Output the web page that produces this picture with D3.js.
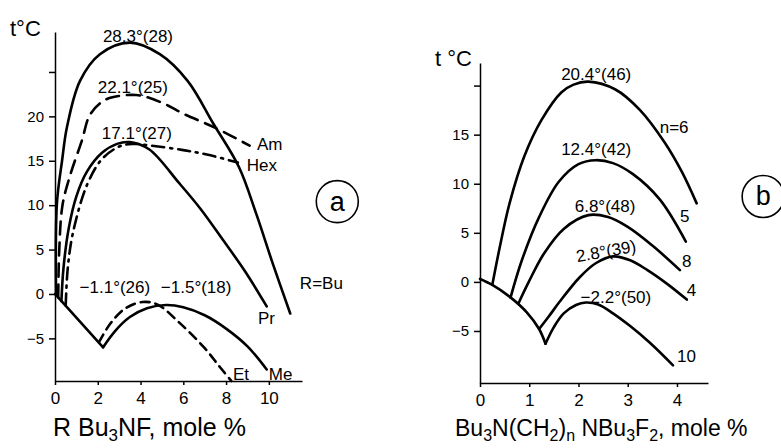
<!DOCTYPE html>
<meta charset="utf-8">
<script src="https://cdn.jsdelivr.net/npm/d3@7"></script>
<style>
body { margin: 0; background: #fff; }
svg { display: block; }
.curve { fill: none; stroke: #000; stroke-width: 2.6px; stroke-linecap: round; stroke-linejoin: round; }
.axis path, .axis line { stroke: #000; stroke-width: 1.5px; }
.axis text { font-family: "Liberation Sans", sans-serif; fill: #000; }
.lbl { font-family: "Liberation Sans", sans-serif; fill: #000; }
</style>
<body>
<script>

// ---- panel (a): R Bu3NF ----
let xTicksA = [0, 2, 4, 6, 8, 10];
let yTicksA = [-5, 0, 5, 10, 15, 20, 25];

let liquidA = [[0, 0], [2.25, -6.0]];
let buA  = [[0.05, -0.13], [0.09, 10.2], [0.33, 15], [0.56, 18.8], [1.17, 24], [2.1, 27], [3.5, 28.3], [4.9, 27], [6.2, 24], [7.4, 19.2], [8.6, 14.3], [9.4, 9.1], [10.2, 3.3], [11.0, -2.2]];
let amA  = [[0.15, -0.4], [0.2, 5], [0.35, 10], [0.7, 13.3], [1.26, 17.3], [1.64, 20.2], [2.3, 21.8], [3.0, 22.3], [3.8, 22.4], [4.4, 22.1], [5.3, 21.2], [6.0, 20.3], [7.5, 18.7], [9.1, 16.7]];
let prA  = [[0.3, -0.8], [0.4, 3], [0.65, 7.5], [1.0, 11], [1.5, 13.8], [2.2, 15.9], [2.9, 16.9], [3.5, 17.1], [4.4, 16.3], [5.8, 12.5], [6.8, 9.6], [7.85, 6.1], [8.9, 2.5], [9.9, -1.4]];
let hexA = [[0.5, -1.3], [0.6, 3], [0.85, 7], [1.5, 12.3], [2.2, 15.2], [3.0, 16.6], [3.6, 16.9], [4.5, 16.7], [6.0, 16.2], [7.1, 15.7], [8.55, 14.8]];
let meA  = [[2.25, -6.0], [2.8, -4.2], [3.5, -2.6], [4.3, -1.6], [5.2, -1.25], [6.0, -1.5], [7.0, -2.4], [8.0, -3.9], [9.0, -5.9], [9.9, -8.5]];
let etA  = [[2.05, -5.45], [2.6, -3.3], [3.3, -1.6], [4.1, -0.9], [4.8, -1.2], [5.8, -3.2], [7.0, -6.1], [7.7, -8.2], [8.25, -9.8]];

// text, x, y (data units), anchor
let labelsA = [
  ["28.3°(28)", 3.88, 28.4, "middle"],
  ["22.1°(25)", 3.64, 22.6, "middle"],
  ["17.1°(27)", 3.83, 17.4, "middle"],
  ["Am", 9.44, 16.2, "start"],
  ["Hex", 8.97, 13.9, "start"],
  ["−1.1°(26)", 2.8, 0.1, "middle"],
  ["−1.5°(18)", 6.6, 0.1, "middle"],
  ["R=Bu", 11.45, 0.56, "start"],
  ["Pr", 9.49, -3.4, "start"],
  ["Et", 8.32, -9.66, "start"],
  ["Me", 10.0, -9.66, "start"]
];

// ---- panel (b): Bu3N(CH2)nNBu3F2 ----
let xTicksB = [0, 1, 2, 3, 4];
let yTicksB = [-5, 0, 5, 10, 15, 20];

let liquidB = [[0, 0.3], [0.25, -0.3], [0.6, -1.5], [0.95, -3.1], [1.2, -4.8], [1.33, -6.3]];
let n6  = [[0.25, -0.3], [0.4, 3.5], [0.6, 8], [0.9, 12.8], [1.25, 16.5], [1.65, 19.3], [1.9, 20.1], [2.2, 20.4], [2.75, 19.6], [3.25, 17.5], [3.75, 14.2], [4.1, 11.2], [4.4, 8.0]];
let n5  = [[0.62, -1.6], [0.85, 2.2], [1.2, 6.6], [1.6, 10.2], [2.0, 12.0], [2.35, 12.4], [2.7, 12.1], [3.1, 11.0], [3.65, 8.4], [4.18, 4.1]];
let n8  = [[0.78, -2.2], [1.0, 0.1], [1.3, 2.9], [1.7, 5.4], [2.2, 6.8], [2.6, 6.6], [3.0, 5.6], [3.5, 3.7], [4.06, 1.2]];
let n4  = [[1.2, -4.8], [1.4, -3.5], [1.62, -2.0], [2.03, 0.5], [2.35, 1.9], [2.7, 2.6], [3.05, 2.2], [3.4, 1.2], [3.8, -0.2], [4.2, -1.8]];
let n10 = [[1.33, -6.3], [1.5, -4.6], [1.7, -3.2], [1.95, -2.35], [2.15, -2.1], [2.4, -2.3], [2.7, -3.2], [3.05, -4.5], [3.45, -6.2], [3.92, -8.5]];

let labelsB = [
  ["20.4°(46)", 2.36, 20.6, "middle"],
  ["n=6", 3.65, 15.2, "start"],
  ["12.4°(42)", 2.36, 12.9, "middle"],
  ["5", 4.06, 6.1, "start"],
  ["6.8°(48)", 2.54, 7.1, "middle"],
  ["8", 4.1, 1.5, "start"],
  ["2.8°(39)", 2.58, 2.55, "middle"],
  ["4", 4.2, -1.43, "start"],
  ["−2.2°(50)", 2.76, -2.14, "middle"],
  ["10", 4.0, -8.16, "start"]
];

let width = 781, height = 448;

let svg = d3.select("body").append("svg")
    .attr("width", width)
    .attr("height", height);

let xa = d3.scaleLinear().domain([0, 11.55]).range([55, 302]);
let ya = d3.scaleLinear().domain([-9.8, 29.5]).range([381, 32]);
let xb = d3.scaleLinear().domain([0, 4.63]).range([480, 708]);
let yb = d3.scaleLinear().domain([-10.3, 22.3]).range([383, 63]);

function fmt(hidden) {
  return function(d) { return d === hidden ? "" : (d < 0 ? "−" + (-d) : "" + d); };
}

function drawAxes(x, y, xt, yt, hidden) {
  let gy = svg.append("g")
      .attr("class", "axis")
      .attr("transform", "translate(" + x.range()[0] + ",0)")
      .call(d3.axisLeft(y).tickValues(yt).tickFormat(fmt(hidden)).tickSize(6).tickSizeOuter(0).tickPadding(5));
  gy.selectAll("text").attr("font-size", 15);

  let gx = svg.append("g")
      .attr("class", "axis")
      .attr("transform", "translate(0," + y.range()[0] + ")")
      .call(d3.axisBottom(x).tickValues(xt).tickFormat(fmt(null)).tickSize(4).tickSizeOuter(0).tickPadding(7));
  gx.selectAll("text").attr("font-size", 17);
}

function drawCurve(x, y, pts, dash) {
  let line = d3.line()
      .x(function(d) { return x(d[0]); })
      .y(function(d) { return y(d[1]); })
      .curve(d3.curveCatmullRom.alpha(0.5));
  svg.append("path")
      .attr("class", "curve")
      .attr("d", line(pts))
      .style("stroke-dasharray", dash || null);
}

function drawLabels(x, y, labels, size) {
  svg.selectAll(null)
      .data(labels)
      .enter().append("text")
      .attr("class", "lbl")
      .attr("x", function(d) { return x(d[1]); })
      .attr("y", function(d) { return y(d[2]); })
      .attr("text-anchor", function(d) { return d[3]; })
      .attr("font-size", size)
      .attr("transform", function(d) { return d[0] === "2.8°(39)" ? "rotate(-10," + x(d[1]) + "," + y(d[2]) + ")" : null; })
      .text(function(d) { return d[0]; });
}

function circled(cx, cy, letter) {
  svg.append("circle")
      .attr("cx", cx).attr("cy", cy).attr("r", 21)
      .attr("fill", "none").attr("stroke", "#000").attr("stroke-width", 1.6);
  svg.append("text")
      .attr("class", "lbl")
      .attr("x", cx).attr("y", cy + 9)
      .attr("text-anchor", "middle")
      .attr("font-size", 27)
      .text(letter);
}

// panel a
drawAxes(xa, ya, xTicksA, yTicksA, 25);
drawCurve(xa, ya, liquidA);
drawCurve(xa, ya, buA);
drawCurve(xa, ya, amA, "13,8");
drawCurve(xa, ya, prA);
drawCurve(xa, ya, hexA, "12,6,2,6");
drawCurve(xa, ya, meA);
drawCurve(xa, ya, etA, "9,6");
drawLabels(xa, ya, labelsA, 17);
circled(xa(13.2), ya(10.4), "a");

svg.append("text").attr("class", "lbl")
    .attr("x", 10).attr("y", 36).attr("font-size", 22)
    .text("t°C");

let xla = svg.append("text").attr("class", "lbl")
    .attr("x", 53).attr("y", 436).attr("font-size", 25);
xla.append("tspan").text("R Bu");
xla.append("tspan").attr("dy", 5).attr("font-size", 17).text("3");
xla.append("tspan").attr("dy", -5).text("NF,  mole %");

// panel b
drawAxes(xb, yb, xTicksB, yTicksB, 20);
drawCurve(xb, yb, liquidB);
drawCurve(xb, yb, n6);
drawCurve(xb, yb, n5);
drawCurve(xb, yb, n8);
drawCurve(xb, yb, n4);
drawCurve(xb, yb, n10);
drawLabels(xb, yb, labelsB, 17);
circled(xb(5.75), yb(8.7), "b");

svg.append("text").attr("class", "lbl")
    .attr("x", 435).attr("y", 66).attr("font-size", 22)
    .text("t °C");

let xlb = svg.append("text").attr("class", "lbl")
    .attr("x", 455).attr("y", 436).attr("font-size", 23);
xlb.append("tspan").text("Bu");
xlb.append("tspan").attr("dy", 5).attr("font-size", 16).text("3");
xlb.append("tspan").attr("dy", -5).text("N(CH");
xlb.append("tspan").attr("dy", 5).attr("font-size", 16).text("2");
xlb.append("tspan").attr("dy", -5).text(")");
xlb.append("tspan").attr("dy", 5).attr("font-size", 16).text("n");
xlb.append("tspan").attr("dy", -5).text(" NBu");
xlb.append("tspan").attr("dy", 5).attr("font-size", 16).text("3");
xlb.append("tspan").attr("dy", -5).text("F");
xlb.append("tspan").attr("dy", 5).attr("font-size", 16).text("2");
xlb.append("tspan").attr("dy", -5).text(",  mole %");

</script>
